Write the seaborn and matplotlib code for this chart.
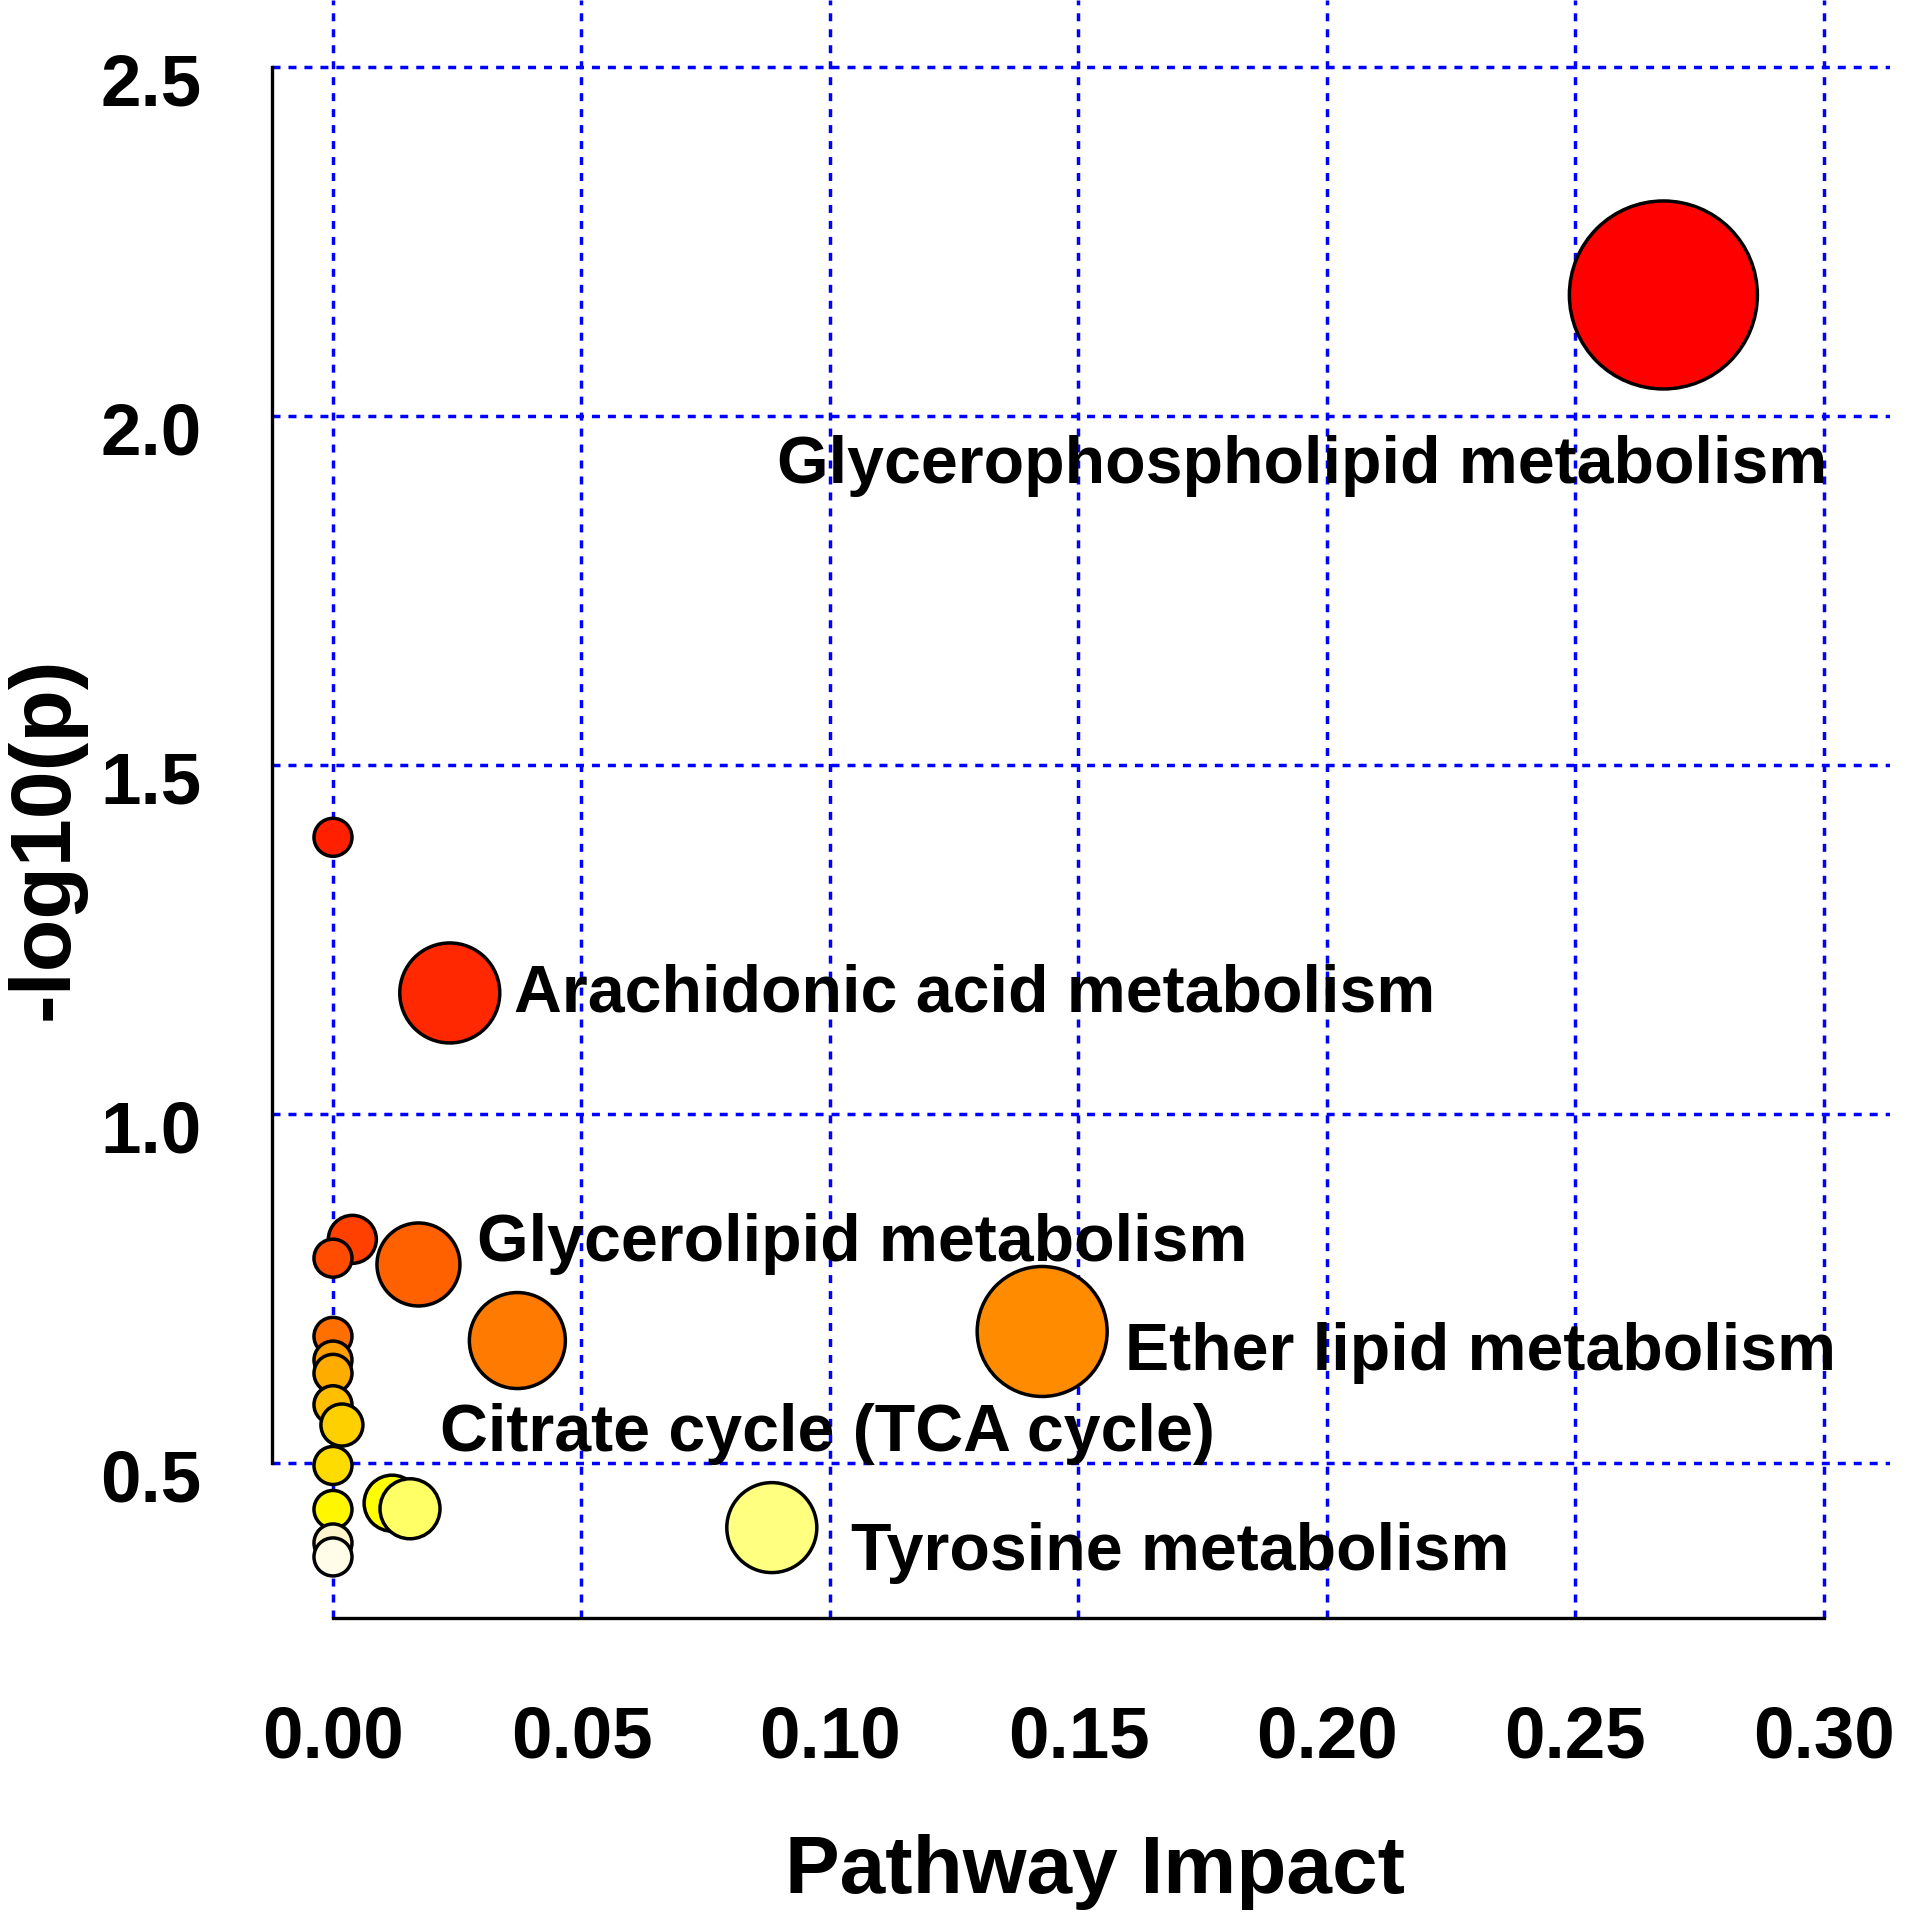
import numpy as np
import pandas as pd
import matplotlib
matplotlib.use("Agg")
import matplotlib.pyplot as plt
import matplotlib.transforms as mtrans
import seaborn as sns

# ---- data (ordered as drawn: most significant first) ----
pathway_id = ["Glycerophospholipid metabolism", "P02", "Arachidonic acid metabolism",
              "P04", "P05", "Glycerolipid metabolism", "Ether lipid metabolism",
              "P09", "P07", "P10", "P11", "P12", "Citrate cycle (TCA cycle)", "P14",
              "P16", "P15", "P17", "Tyrosine metabolism", "P19", "P20"]
impact = [0.2677, 0.0, 0.0235, 0.0039, 0.0, 0.0172, 0.1427,
          0.0, 0.0371, 0.0, 0.0, 0.0, 0.0018, 0.0,
          0.0119, 0.0, 0.0155, 0.0883, 0.0, 0.0]
neglogp = [2.173, 1.396, 1.173, 0.820, 0.793, 0.784, 0.688,
           0.681, 0.675, 0.647, 0.628, 0.583, 0.554, 0.496,
           0.442, 0.433, 0.434, 0.407, 0.385, 0.365]
bubble_radius_px = [94, 19, 50, 24, 19, 41.5, 65,
                    19, 48, 19, 19, 19, 21, 19,
                    28, 19, 30, 45, 19, 19]
fill_colors = ["#FF0000", "#FF2000", "#FF2800", "#FF4000", "#FF4C00", "#FF6000", "#FF8C00",
               "#FF7000", "#FF7A00", "#FFA000", "#FFAC00", "#FFBE00", "#FFD000", "#FFDC00",
               "#FFFF00", "#FFF700", "#FFFF66", "#FFFF80", "#FFF5CC", "#FFFDE8"]

label_names = ["Glycerophospholipid metabolism", "Arachidonic acid metabolism",
               "Glycerolipid metabolism", "Ether lipid metabolism",
               "Citrate cycle (TCA cycle)", "Tyrosine metabolism"]
label_x = [0.0893, 0.0364, 0.0290, 0.1594, 0.0216, 0.1043]
label_y = [1.903, 1.147, 0.789, 0.633, 0.517, 0.346]

x_ticks = [0.00, 0.05, 0.10, 0.15, 0.20, 0.25, 0.30]
x_tick_labels = ["0.00", "0.05", "0.10", "0.15", "0.20", "0.25", "0.30"]
y_ticks = [0.5, 1.0, 1.5, 2.0, 2.5]
y_tick_labels = ["0.5", "1.0", "1.5", "2.0", "2.5"]

# ---- styling ----
sns.set_style("white")
plt.rcParams['font.family'] = ['Liberation Sans', 'DejaVu Sans']
plt.rcParams['font.weight'] = 'bold'
plt.rcParams['text.color'] = 'black'
plt.rcParams['axes.labelcolor'] = 'black'
plt.rcParams['xtick.color'] = 'black'
plt.rcParams['ytick.color'] = 'black'

DPI = 100
W, H = 1908, 1916
fig = plt.figure(figsize=(W / DPI, H / DPI), dpi=DPI)
ax = fig.add_axes([272 / W, 1 - 1618 / H, (1890 - 272) / W, 1618 / H])

df = pd.DataFrame({"pathway": pathway_id, "impact": impact, "neglogp": neglogp,
                   "r": bubble_radius_px})
marker_area = (2 * df["r"].to_numpy() * 72 / DPI) ** 2

sns.scatterplot(data=df, x="impact", y="neglogp", hue="pathway",
                hue_order=pathway_id, palette=dict(zip(pathway_id, fill_colors)),
                s=marker_area, edgecolor="black", linewidth=2.5, legend=False,
                ax=ax, zorder=3)

ax.set_xlim(-0.01227, 0.3133)
ax.set_ylim(0.2775, 2.5956)
ax.set_xticks(x_ticks)
ax.set_xticklabels(x_tick_labels)
ax.set_yticks(y_ticks)
ax.set_yticklabels(y_tick_labels)

ax.set_axisbelow(True)
ax.grid(True, color="blue", linestyle=(0, (2.3, 2.3)), linewidth=2.5)

for side in ["top", "right"]:
    ax.spines[side].set_visible(False)
ax.spines["left"].set_bounds(0.5, 2.5)
ax.spines["bottom"].set_bounds(0.0, 0.3)
for side in ["left", "bottom"]:
    ax.spines[side].set_linewidth(2.4)
    ax.spines[side].set_color("black")

ax.tick_params(axis="both", direction="out", length=21.6, width=2.4,
               labelsize=52.5, colors="black")
ax.tick_params(axis="x", pad=41)
ax.tick_params(axis="y", pad=29)
for lab in ax.get_xticklabels() + ax.get_yticklabels():
    lab.set_fontweight("bold")

for name, lx, ly in zip(label_names, label_x, label_y):
    ax.text(lx, ly, name, fontsize=47.7, fontweight="bold", ha="left",
            va="baseline", color="black", zorder=4)

ax.set_xlabel("Pathway Impact", fontsize=59, fontweight="bold", color="black")
ax.xaxis.label.set_va("center")
ax.xaxis.set_label_coords(0.5087, -0.157)
ax.set_ylabel("-log10(p)", fontsize=62, fontweight="bold", color="black")
ax.yaxis.label.set_va("center")
ax.yaxis.set_label_coords(-0.1397, 0.482)

offset = mtrans.ScaledTranslation(0, -12 / DPI, fig.dpi_scale_trans)
for lab in ax.get_yticklabels():
    lab.set_transform(lab.get_transform() + offset)

fig.savefig("out.png", dpi=DPI)
